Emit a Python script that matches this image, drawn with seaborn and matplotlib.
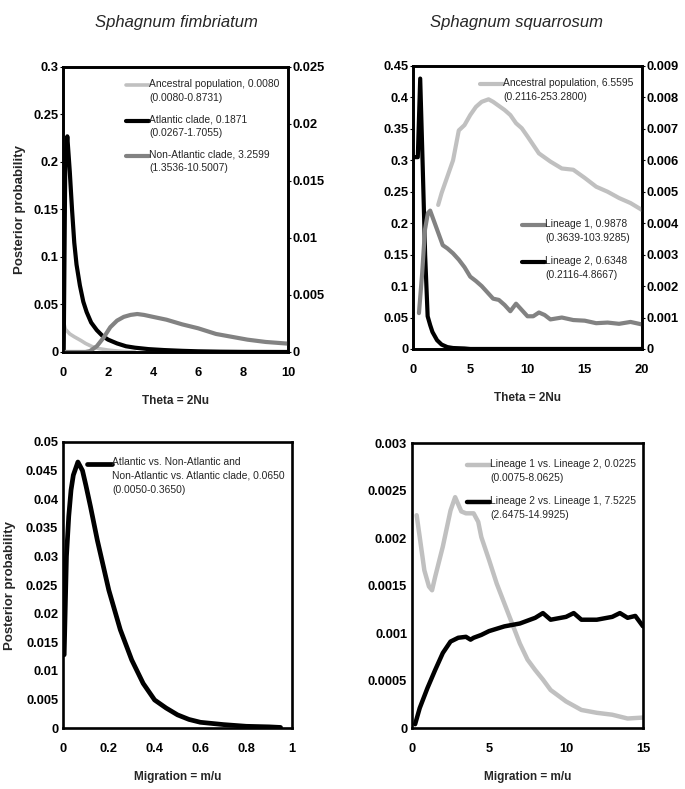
import numpy as np
import matplotlib
matplotlib.use("Agg")
import matplotlib.pyplot as plt
from matplotlib import font_manager
from matplotlib.legend_handler import HandlerLine2D
from matplotlib.ticker import FuncFormatter, MultipleLocator
import seaborn as sns

# ---- S. fimbriatum, theta ----
fim_anc_x = [0.008, 0.1, 0.3, 0.5, 0.8, 1.0, 1.3, 1.6, 2.0, 2.4, 2.8, 3.2]
fim_anc_y = [0.034, 0.024, 0.019, 0.016, 0.012, 0.009, 0.0056, 0.0035, 0.002, 0.001, 0.0004, 0.0]
fim_atl_x = [0.03, 0.1, 0.19, 0.3, 0.4, 0.5, 0.6, 0.75, 0.9, 1.05, 1.25, 1.5, 1.75, 2.0,
             2.4, 2.8, 3.2, 3.8, 4.5, 5.3, 6.0, 7.0, 8.0, 10.0]
fim_atl_y = [0.0, 0.2, 0.227, 0.19, 0.15, 0.115, 0.092, 0.07, 0.053, 0.042, 0.031, 0.023, 0.017, 0.013,
             0.009, 0.006, 0.0045, 0.003, 0.002, 0.0012, 0.0007, 0.0003, 0.0001, 0.0]
# secondary axis
fim_non_x = [0.0, 1.0, 1.2, 1.5, 1.8, 2.1, 2.4, 2.7, 3.0, 3.3, 3.6, 4.0, 4.6, 5.3, 6.0,
             6.8, 7.5, 8.2, 9.0, 10.0]
fim_non_y = [0.0, 0.0, 0.00008, 0.0005, 0.00125, 0.00217, 0.00275, 0.00308, 0.00325, 0.00333,
             0.00325, 0.00308, 0.00283, 0.00242, 0.00208, 0.00158, 0.00133, 0.00108, 0.00088, 0.00073]

# ---- S. squarrosum, theta ----
# secondary axis
squ_anc_x = [2.2, 2.5, 3.0, 3.5, 4.0, 4.5, 5.0, 5.5, 6.0, 6.6, 7.0, 8.0, 8.5, 9.0, 9.5, 10,
             11, 12, 13, 14, 15, 16, 17, 18, 19, 20]
squ_anc_y = [0.00458, 0.00496, 0.00548, 0.006, 0.00695, 0.00712, 0.00744, 0.0077, 0.00786, 0.00794,
             0.00786, 0.0076, 0.00744, 0.00718, 0.00702, 0.00676, 0.00622, 0.00596, 0.00574, 0.0057,
             0.00544, 0.00516, 0.005, 0.0048, 0.00464, 0.00442]
squ_l1_x = [0.52, 0.8, 1.05, 1.3, 1.5, 1.8, 2.0, 2.3, 2.6, 3.0, 3.5, 4.0, 4.5, 5.0, 5.5, 6.0,
            6.5, 7.0, 7.5, 8.0, 8.5, 9.0, 9.5, 10, 10.5, 11, 11.5, 12, 13, 14, 15, 16, 17, 18, 19, 20]
squ_l1_y = [0.00114, 0.0024, 0.0038, 0.00432, 0.0044, 0.0041, 0.0039, 0.0036, 0.0033, 0.0032,
            0.00304, 0.00284, 0.0026, 0.0023, 0.00216, 0.002, 0.0018, 0.0016, 0.00156, 0.0014,
            0.0012, 0.00144, 0.00124, 0.00104, 0.00104, 0.00116, 0.00108, 0.00094, 0.001, 0.00092,
            0.0009, 0.00082, 0.00084, 0.0008, 0.00086, 0.00078]
# primary axis
squ_l2_x = [0.21, 0.42, 0.63, 0.85, 1.06, 1.28, 1.5, 1.7, 2.1, 2.5, 3.0, 3.5, 4.5, 5.0, 20.0]
squ_l2_y = [0.305, 0.305, 0.43, 0.29, 0.15, 0.052, 0.038, 0.027, 0.014, 0.007, 0.003, 0.0015,
            0.0008, 0.0, 0.0]

# ---- S. fimbriatum, migration ----
fim_mig_x = [0.005, 0.015, 0.025, 0.035, 0.045, 0.065, 0.085, 0.1, 0.12, 0.15, 0.2, 0.25, 0.3,
             0.35, 0.4, 0.45, 0.5, 0.55, 0.6, 0.7, 0.8, 0.9, 0.95]
fim_mig_y = [0.0128, 0.03, 0.037, 0.0416, 0.0442, 0.0465, 0.045, 0.0424, 0.0387, 0.0328, 0.0241,
             0.0172, 0.0119, 0.0078, 0.0049, 0.0035, 0.0023, 0.0015, 0.001, 0.0006, 0.0003, 0.0002,
             0.0001]

# ---- S. squarrosum, migration ----
squ_m12_x = [0.3, 0.5, 0.8, 1.1, 1.3, 1.5, 2.0, 2.5, 2.8, 3.2, 3.5, 4.0, 4.3, 4.5, 5.0, 5.5, 6.0,
             6.5, 7.0, 7.5, 8.0, 8.5, 9.0, 10, 11, 12, 13, 14, 15]
squ_m12_y = [0.00224, 0.00201, 0.00166, 0.00149, 0.00145, 0.00159, 0.00191, 0.00229, 0.00243,
             0.00228, 0.00226, 0.00226, 0.00217, 0.00201, 0.00177, 0.00152, 0.00131, 0.0011,
             0.00089, 0.00072, 0.00061, 0.00051, 0.0004, 0.00028, 0.00019, 0.00016, 0.00014,
             0.0001, 0.00011]
squ_m21_x = [0.2, 0.5, 1.0, 1.5, 2.0, 2.5, 3.0, 3.5, 3.8, 4.0, 4.5, 5.0, 6.0, 7.0, 8.0, 8.5, 9.0,
             10, 10.5, 11, 12, 13, 13.5, 14, 14.5, 15]
squ_m21_y = [0.00004, 0.00021, 0.00042, 0.00061, 0.00079, 0.00091, 0.00095, 0.00096, 0.00093,
             0.00095, 0.00098, 0.00102, 0.00107, 0.0011, 0.00116, 0.00121, 0.00114, 0.00117,
             0.00121, 0.00114, 0.00114, 0.00117, 0.00121, 0.00116, 0.00118, 0.00107]

titles = ["Sphagnum fimbriatum", "Sphagnum squarrosum"]
LIGHT = "#c0c0c0"
DARK = "#828282"
BLACK = "#000000"

sns.set_theme(style="white")
plt.rcParams["font.family"] = ["Liberation Sans", "DejaVu Sans"]

names = {f.name for f in font_manager.fontManager.ttflist}
if "Liberation Sans Narrow" in names:
    leg_font = font_manager.FontProperties(family="Liberation Sans Narrow", size=9)
else:
    leg_font = font_manager.FontProperties(family="Liberation Sans", size=7.4)
LINESP = 1.48


class FirstLineHandler(HandlerLine2D):
    # put the line sample next to the first line of a multi-line label
    def __init__(self, nlines, **kw):
        super().__init__(**kw)
        self.nlines = nlines

    def create_artists(self, legend, orig_handle, xdescent, ydescent, width, height, fontsize, trans):
        artists = super().create_artists(legend, orig_handle, xdescent, ydescent,
                                         width, height, fontsize, trans)
        shift = (self.nlines - 1) / 2 * 1.2 * fontsize
        for a in artists:
            a.set_ydata(np.asarray(a.get_ydata()) + shift)
        return artists


def draw(ax, xs, ys, color, lw, label):
    sns.lineplot(x=xs, y=ys, ax=ax, color=color, linewidth=lw, estimator=None,
                 sort=False, legend=False)
    line = ax.get_lines()[-1]
    line.set_label(label)
    line.set_solid_joinstyle("round")
    return line


def add_legend(ax, lines, anchor, spacing, hlen=2.2):
    hmap = {ln: FirstLineHandler(ln.get_label().count("\n") + 1) for ln in lines}
    leg = ax.legend(handles=lines, loc="upper left", bbox_to_anchor=anchor, frameon=False,
                    prop=leg_font, handlelength=hlen, handletextpad=0.05, labelspacing=spacing,
                    borderpad=0, borderaxespad=0, handler_map=hmap)
    for t in leg.get_texts():
        t.set_linespacing(LINESP)
    return leg


def style(ax, xmax, xstep, ymax, ystep):
    ax.set_xlim(0, xmax)
    ax.set_ylim(0, ymax)
    ax.xaxis.set_major_locator(MultipleLocator(xstep))
    ax.yaxis.set_major_locator(MultipleLocator(ystep))
    fmt = FuncFormatter(lambda v, p: "%g" % round(v, 6))
    ax.xaxis.set_major_formatter(fmt)
    ax.yaxis.set_major_formatter(fmt)
    for s in ax.spines.values():
        s.set_visible(True)
        s.set_color("black")
        s.set_linewidth(1.9)
    ax.tick_params(axis="x", direction="out", length=2, width=0.8, pad=9,
                   labelsize=9.3, colors="black")
    ax.tick_params(axis="y", direction="out", length=2, width=0.8, pad=1.5,
                   labelsize=9.3, colors="black")
    for lab in ax.get_xticklabels() + ax.get_yticklabels():
        lab.set_fontweight("bold")
    ax.grid(False)


fig = plt.figure(figsize=(6.85, 7.89), dpi=100)
ax1 = fig.add_axes([0.092, 0.5539, 0.3285, 0.3612])
ax2 = fig.add_axes([0.6029, 0.5577, 0.3343, 0.3587])
ax3 = fig.add_axes([0.092, 0.0773, 0.3343, 0.3625])
ax4 = fig.add_axes([0.6015, 0.0773, 0.3372, 0.3612])

# top left
a1 = draw(ax1, fim_anc_x, fim_anc_y, LIGHT, 2.6, "Ancestral population, 0.0080\n(0.0080-0.8731)")
b1 = draw(ax1, fim_atl_x, fim_atl_y, BLACK, 3.0, "Atlantic clade, 0.1871\n(0.0267-1.7055)")
ax1r = ax1.twinx()
c1 = draw(ax1r, fim_non_x, fim_non_y, DARK, 3.0, "Non-Atlantic clade, 3.2599\n(1.3536-10.5007)")
style(ax1, 10, 2, 0.3, 0.05)
style(ax1r, 10, 2, 0.025, 0.005)
add_legend(ax1r, [a1, b1, c1], (0.28, 0.957), 1.1)

# top right
ax2r = ax2.twinx()
l2 = draw(ax2, squ_l2_x, squ_l2_y, BLACK, 3.0, "Lineage 2, 0.6348\n(0.2116-4.8667)")
a2 = draw(ax2r, squ_anc_x, squ_anc_y, LIGHT, 3.0, "Ancestral population, 6.5595\n(0.2116-253.2800)")
l1 = draw(ax2r, squ_l1_x, squ_l1_y, DARK, 3.0, "Lineage 1, 0.9878\n(0.3639-103.9285)")
style(ax2, 20, 5, 0.45, 0.05)
style(ax2r, 20, 5, 0.009, 0.001)
leg = add_legend(ax2r, [a2], (0.293, 0.957), 0.9)
ax2r.add_artist(leg)
add_legend(ax2r, [l1, l2], (0.476, 0.459), 1.25)

# bottom left
m1 = draw(ax3, fim_mig_x, fim_mig_y, BLACK, 3.4,
          "Atlantic vs. Non-Atlantic and\nNon-Atlantic vs. Atlantic clade, 0.0650\n(0.0050-0.3650)")
style(ax3, 1, 0.2, 0.05, 0.005)
add_legend(ax3, [m1], (0.105, 0.947), 0.9, hlen=2.4)

# bottom right
m12 = draw(ax4, squ_m12_x, squ_m12_y, LIGHT, 3.2, "Lineage 1 vs. Lineage 2, 0.0225\n(0.0075-8.0625)")
m21 = draw(ax4, squ_m21_x, squ_m21_y, BLACK, 3.2, "Lineage 2 vs. Lineage 1, 7.5225\n(2.6475-14.9925)")
style(ax4, 15, 5, 0.003, 0.0005)
add_legend(ax4, [m12, m21], (0.238, 0.943), 1.27)

for ax in (ax1, ax2):
    ax.set_xlabel("Theta = 2Nu", fontsize=8.5, fontweight="bold", labelpad=11)
for ax in (ax3, ax4):
    ax.set_xlabel("Migration = m/u", fontsize=8.5, fontweight="bold", labelpad=11)
for ax in (ax1, ax3):
    ax.set_ylabel("Posterior probability", fontsize=9.5, fontweight="bold")
ax1.yaxis.set_label_coords(-0.165, 0.5)
ax3.yaxis.set_label_coords(-0.205, 0.5)

fig.text(176 / 685, 1 - 22 / 789, titles[0], ha="center", va="center",
         style="italic", fontsize=12)
fig.text(516 / 685, 1 - 22 / 789, titles[1], ha="center", va="center",
         style="italic", fontsize=12)

fig.savefig("out.png", dpi=100, facecolor="white")
